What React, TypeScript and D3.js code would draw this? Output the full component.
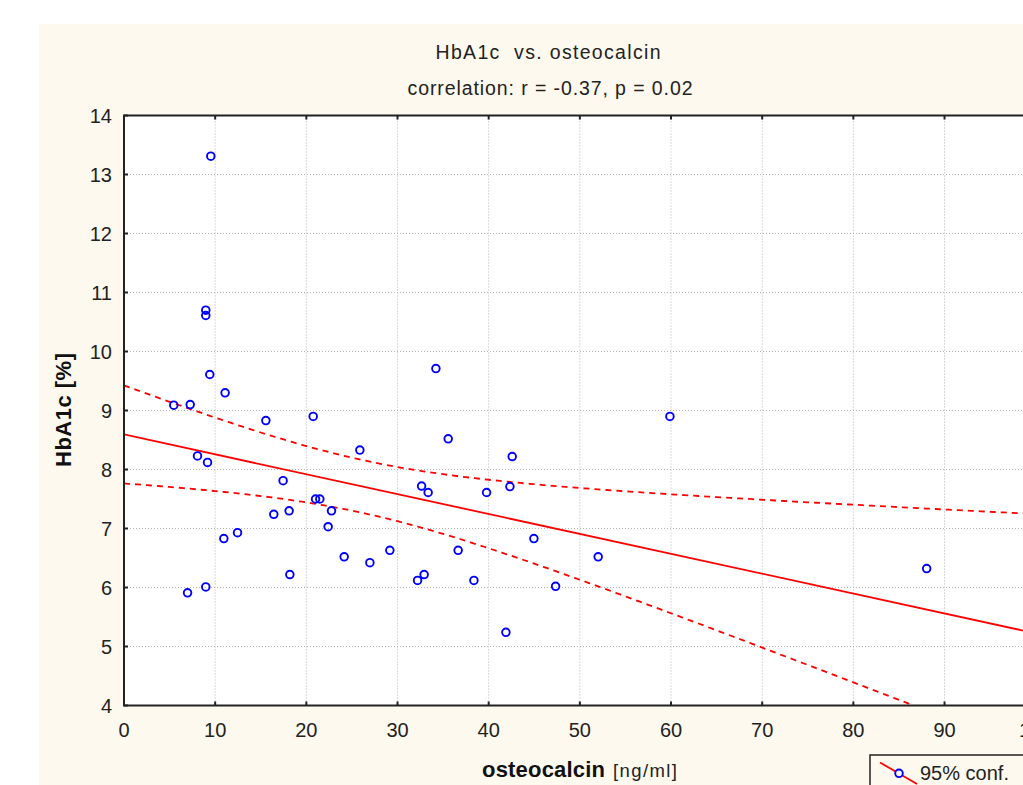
import React from "react";
import * as d3 from "d3";

const osteocalcin = [9.52, 8.97, 8.97, 9.41, 11.09, 5.46, 7.26, 15.56, 20.75, 8.06, 9.16, 25.87, 34.21, 35.56, 42.58, 17.45, 32.64, 33.36, 39.77, 42.33, 21.01, 21.48, 18.11, 16.43, 22.76, 22.39, 12.45, 10.95, 44.96, 24.15, 26.97, 29.16, 36.65, 52.01, 59.88, 32.2, 32.92, 38.38, 47.34, 18.19, 41.89, 88.04, 6.97, 8.97];
const hba1c = [13.31, 10.7, 10.61, 9.61, 9.3, 9.09, 9.1, 8.83, 8.9, 8.23, 8.12, 8.33, 9.71, 8.52, 8.22, 7.81, 7.72, 7.61, 7.61, 7.71, 7.5, 7.5, 7.3, 7.24, 7.3, 7.03, 6.93, 6.83, 6.83, 6.52, 6.42, 6.63, 6.63, 6.52, 8.9, 6.12, 6.22, 6.12, 6.02, 6.22, 5.24, 6.32, 5.91, 6.01];
const xTicks = [0, 10, 20, 30, 40, 50, 60, 70, 80, 90, 100];
const yTicks = [4, 5, 6, 7, 8, 9, 10, 11, 12, 13, 14];
const titleLine1 = "HbA1c  vs. osteocalcin";
const titleLine2 = "correlation: r = -0.37, p = 0.02";
const xLabel = "osteocalcin";
const xUnit = "[ng/ml]";
const yLabel = "HbA1c [%]";
const legendLabel = "95% conf.";

const W = 1023;
const H = 785;
const FONT = "'Liberation Sans', Arial, sans-serif";

export default function App() {
  const x = d3.scaleLinear().domain([0, 100]).range([124, 1035.7]);
  const y = d3.scaleLinear().domain([4, 14]).range([705.5, 115.5]);

  const n = osteocalcin.length;
  const mx = d3.mean(osteocalcin)!;
  const my = d3.mean(hba1c)!;
  let sxx = 0, sxy = 0;
  for (let i = 0; i < n; i++) {
    sxx += (osteocalcin[i] - mx) ** 2;
    sxy += (osteocalcin[i] - mx) * (hba1c[i] - my);
  }
  const b = sxy / sxx;
  const a = my - b * mx;
  let sse = 0;
  for (let i = 0; i < n; i++) sse += (hba1c[i] - (a + b * osteocalcin[i])) ** 2;
  const s = Math.sqrt(sse / (n - 2));
  const t = 2.018;
  const xs = d3.range(0, 100.01, 0.5);
  const hw = (v: number) => t * s * Math.sqrt(1 / n + (v - mx) ** 2 / sxx);
  const line = d3.line<number[]>().x((d) => x(d[0])).y((d) => y(d[1]));
  const fitPath = line([[0, a], [100, a + b * 100]])!;
  const upperPath = line(xs.map((v) => [v, a + b * v + hw(v)]))!;
  const lowerPath = line(xs.map((v) => [v, a + b * v - hw(v)]))!;

  const x0 = x(0), x1 = x(100), y0 = y(4), y1 = y(14);

  return (
    <svg width={W} height={H} style={{ position: "absolute", left: 0, top: 0, background: "#ffffff" }}>
      <defs>
        <clipPath id="plotclip">
          <rect x={x0} y={y1} width={x1 - x0} height={y0 - y1} />
        </clipPath>
      </defs>
      <rect x={39} y={24} width={W} height={H} fill="#fdf9ef" />
      <rect x={x0} y={y1} width={x1 - x0} height={y0 - y1} fill="#ffffff" />
      {xTicks.slice(1, -1).map((v) => (
        <line key={"gx" + v} x1={x(v)} x2={x(v)} y1={y1} y2={y0} stroke="#b4b4b4" strokeWidth={1} strokeDasharray="1,2" />
      ))}
      {yTicks.slice(1, -1).map((v) => (
        <line key={"gy" + v} x1={x0} x2={x1} y1={y(v)} y2={y(v)} stroke="#b4b4b4" strokeWidth={1} strokeDasharray="1,2" />
      ))}
      <g clipPath="url(#plotclip)">
        <path d={upperPath} fill="none" stroke="#ff0000" strokeWidth={1.8} strokeDasharray="6,5" />
        <path d={lowerPath} fill="none" stroke="#ff0000" strokeWidth={1.8} strokeDasharray="6,5" />
        <path d={fitPath} fill="none" stroke="#ff0000" strokeWidth={1.8} />
        {osteocalcin.map((v, i) => (
          <circle key={"p" + i} cx={x(v)} cy={y(hba1c[i])} r={3.8} fill="none" stroke="#0000ff" strokeWidth={1.9} />
        ))}
      </g>
      <rect x={x0} y={y1} width={x1 - x0} height={y0 - y1} fill="none" stroke="#222" strokeWidth={2} />
      {xTicks.map((v) => (
        <g key={"tx" + v}>
          <line x1={x(v)} x2={x(v)} y1={y0} y2={y0 - 4} stroke="#222" strokeWidth={2} />
          <line x1={x(v)} x2={x(v)} y1={y1} y2={y1 + 4} stroke="#222" strokeWidth={2} />
          <text x={x(v)} y={737} textAnchor="middle" fontFamily={FONT} fontSize={20} fill="#222">{v}</text>
        </g>
      ))}
      {yTicks.map((v) => (
        <g key={"ty" + v}>
          <line x1={x0} x2={x0 + 4} y1={y(v)} y2={y(v)} stroke="#222" strokeWidth={2} />
          <text x={112} y={y(v)} dy="0.36em" textAnchor="end" fontFamily={FONT} fontSize={20} fill="#222">{v}</text>
        </g>
      ))}
      <text x={548} y={59} textAnchor="middle" fontFamily={FONT} fontSize={19.5} fill="#222" style={{ whiteSpace: "pre" }} textLength={225} lengthAdjust="spacing">{titleLine1}</text>
      <text x={550} y={95} textAnchor="middle" fontFamily={FONT} fontSize={19.5} fill="#222" textLength={285} lengthAdjust="spacing">{titleLine2}</text>
      <text x={482} y={777} fontFamily={FONT} fontSize={22} fontWeight="bold" fill="#111" textLength={123} lengthAdjust="spacing">{xLabel}</text>
      <text x={613} y={777} fontFamily={FONT} fontSize={18.5} fill="#222" textLength={64} lengthAdjust="spacing">{xUnit}</text>
      <text transform="translate(71,410) rotate(-90)" textAnchor="middle" fontFamily={FONT} fontSize={22} fontWeight="bold" fill="#111" textLength={114} lengthAdjust="spacing">{yLabel}</text>
      <rect x={870} y={755} width={200} height={60} fill="none" stroke="#222" strokeWidth={1.5} />
      <line x1={880} y1={762.5} x2={917} y2={784} stroke="#ff0000" strokeWidth={1.8} />
      <circle cx={899} cy={773.3} r={3.8} fill="#fdf9ef" stroke="#0000ff" strokeWidth={1.9} />
      <text x={920} y={779.5} fontFamily={FONT} fontSize={20} fill="#222">{legendLabel}</text>
    </svg>
  );
}
